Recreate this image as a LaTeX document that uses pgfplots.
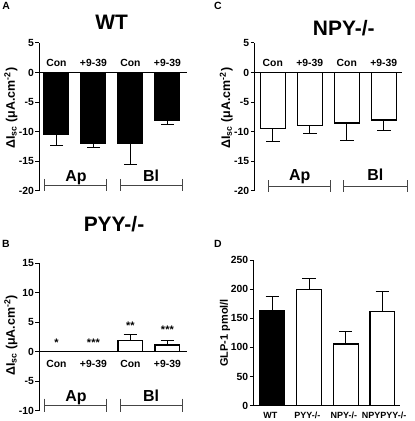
\documentclass[border=0pt]{standalone}
\usepackage{pgfplots}
\pgfplotsset{compat=1.18}
\usepackage{fontspec}
\setmainfont{Liberation Sans}
\definecolor{brk}{HTML}{454545}
\newcommand{\fs}[1]{\fontsize{#1}{#1}\selectfont}
\newcommand{\bracket}[4]{%
  \draw[brk,line width=1bp] (axis cs:#1,#3) -- (axis cs:#2,#3);
  \draw[brk,line width=1bp] ([yshift=#4]axis cs:#1,#3) -- ([yshift=-#4]axis cs:#1,#3);
  \draw[brk,line width=1bp] ([yshift=#4]axis cs:#2,#3) -- ([yshift=-#4]axis cs:#2,#3);}
\tikzset{
  cat/.style={anchor=base, font=\bfseries\fs{10.4}},
  star/.style={anchor=base, font=\bfseries\fs{11}},
  grp/.style={anchor=base, font=\bfseries\fs{16}},
}
\pgfplotsset{
  panel/.style={
    scale only axis,
    axis y line*=left,
    tick align=outside,
    major tick length=3.5bp,
    axis line style={line width=1bp, black},
    ytick style={line width=1bp, black},
    xtick=\empty,
    yticklabel style={font=\bfseries\fs{10.4}, inner sep=1.5bp},
    ylabel style={font=\bfseries\fs{12.5}, anchor=center},
    clip=false,
  },
  mybar/.style={ybar, bar width=#1, bar shift=0pt, line width=1.2bp, draw=black,
    error bars/error bar style={line width=1bp, black},
    error bars/error mark options={rotate=90, line width=1bp, mark size=6.7bp, black}},
}
\begin{document}
\begin{tikzpicture}
\useasboundingbox (0,0) rectangle (415bp,421bp);

% ---------- Panel A: WT ----------
\begin{axis}[panel, width=148bp, height=148bp, at={(39bp,230bp)}, anchor=south west,
  xmin=0.53, xmax=4.53, ymin=-20, ymax=5,
  axis x line*=middle,
  ytick={-20,-15,-10,-5,0,5}, yticklabels={-20,-15,-10,-5,0,5},
  ylabel={ΔI\textsubscript{sc} (μA.cm\textsuperscript{-2})},
  ylabel style={at={(axis description cs:-0.19,0.56)}},
]
\addplot[mybar=0.675, fill=black, error bars/.cd, y dir=minus, y explicit]
  coordinates {(1,-10.5) +- (0,1.8) (2,-12.0) +- (0,0.7) (3,-12.0) +- (0,3.5) (4,-8.0) +- (0,0.8)};
\node[cat] at (axis cs:1,1.07) {Con};
\node[cat] at (axis cs:2,1.07) {+9-39};
\node[cat] at (axis cs:3,1.07) {Con};
\node[cat] at (axis cs:4,1.07) {+9-39};
\bracket{0.69}{2.36}{-19.0}{6.2bp}
\bracket{2.72}{4.40}{-19.0}{6.2bp}
\node[grp] at (axis cs:1.53,-18.4) {Ap};
\node[grp] at (axis cs:3.56,-18.4) {Bl};
\end{axis}

% ---------- Panel C: NPY-/- ----------
\begin{axis}[panel, width=148bp, height=148bp, at={(254.3bp,230bp)}, anchor=south west,
  xmin=0.5, xmax=4.5, ymin=-20, ymax=5,
  axis x line*=middle,
  ytick={-20,-15,-10,-5,0,5}, yticklabels={-20,-15,-10,-5,0,5},
  ylabel={ΔI\textsubscript{sc} (μA.cm\textsuperscript{-2})},
  ylabel style={at={(axis description cs:-0.19,0.56)}},
]
\addplot[mybar=0.675, fill=white, error bars/.cd, y dir=minus, y explicit]
  coordinates {(1,-9.5) +- (0,2.2) (2,-9.0) +- (0,1.3) (3,-8.5) +- (0,2.9) (4,-8.0) +- (0,1.8)};
\node[cat] at (axis cs:1,1.07) {Con};
\node[cat] at (axis cs:2,1.07) {+9-39};
\node[cat] at (axis cs:3,1.07) {Con};
\node[cat] at (axis cs:4,1.07) {+9-39};
\bracket{0.88}{2.57}{-19.2}{6.2bp}
\bracket{2.91}{4.63}{-19.2}{6.2bp}
\node[grp] at (axis cs:1.725,-18.2) {Ap};
\node[grp] at (axis cs:3.77,-18.2) {Bl};
\end{axis}

% ---------- Panel B: PYY-/- ----------
\begin{axis}[panel, width=148bp, height=147.4bp, at={(39bp,10.3bp)}, anchor=south west,
  xmin=0.53, xmax=4.53, ymin=-10, ymax=15,
  axis x line*=middle,
  ytick={-10,-5,0,5,10,15}, yticklabels={-10,-5,0,5,10,15},
  ylabel={ΔI\textsubscript{sc} (μA.cm\textsuperscript{-2})},
  ylabel style={at={(axis description cs:-0.19,0.51)}},
]
\addplot[mybar=0.675, fill=white, error bars/.cd, y dir=plus, y explicit]
  coordinates {(3,1.9) +- (0,1.0) (4,1.15) +- (0,0.75)};
\node[star] at (axis cs:1,0.95) {*};
\node[star] at (axis cs:2,0.95) {***};
\node[star] at (axis cs:3,3.85) {**};
\node[star] at (axis cs:4,3.1) {***};
\node[cat] at (axis cs:1,-2.68) {Con};
\node[cat] at (axis cs:2,-2.68) {+9-39};
\node[cat] at (axis cs:3,-2.68) {Con};
\node[cat] at (axis cs:4,-2.68) {+9-39};
\bracket{0.69}{2.36}{-9.04}{6.5bp}
\bracket{2.72}{4.40}{-9.04}{6.5bp}
\node[grp] at (axis cs:1.53,-8.48) {Ap};
\node[grp] at (axis cs:3.56,-8.48) {Bl};
\end{axis}

% ---------- Panel D: GLP-1 ----------
\begin{axis}[panel, width=146.7bp, height=145.7bp, at={(253.3bp,15.3bp)}, anchor=south west,
  xmin=0.48, xmax=4.48, ymin=0, ymax=250,
  axis x line*=bottom,
  ytick={0,50,100,150,200,250}, yticklabels={0,50,100,150,200,250},
  xtick={1,2,3,4},
  xticklabels={WT\hspace*{4bp},PYY-/-\hspace*{3.4bp},NPY-/-\hspace*{3.6bp},\hspace*{3.4bp}NPYPYY-/-},
  xtick style={draw=none},
  xticklabel style={font=\bfseries\fs{9}, anchor=base, yshift=-9bp},
  ylabel={GLP-1 pmol/l},
  ylabel style={font=\bfseries\fs{11}, at={(axis description cs:-0.193,0.5)}},
]
\addplot[mybar=0.68, fill=black, error bars/.cd, y dir=plus, y explicit]
  coordinates {(1,164) +- (0,24)};
\addplot[mybar=0.68, fill=white, error bars/.cd, y dir=plus, y explicit]
  coordinates {(2,200) +- (0,19) (3,106) +- (0,22) (4,162) +- (0,34)};
\end{axis}

% ---------- titles and panel letters ----------
\node[anchor=base, font=\bfseries\fs{21}] at (111.7bp,391.7bp) {WT};
\node[anchor=base, font=\bfseries\fs{21}] at (343.8bp,385bp) {NPY-/-};
\node[anchor=base, font=\bfseries\fs{21}] at (114bp,189.3bp) {PYY-/-};
\node[anchor=base, font=\bfseries\fs{10.5}] at (6.2bp,411bp) {A};
\node[anchor=base, font=\bfseries\fs{10.5}] at (218bp,411bp) {C};
\node[anchor=base, font=\bfseries\fs{10.5}] at (5.8bp,173.7bp) {B};
\node[anchor=base, font=\bfseries\fs{10.5}] at (218bp,173.7bp) {D};
\end{tikzpicture}
\end{document}
